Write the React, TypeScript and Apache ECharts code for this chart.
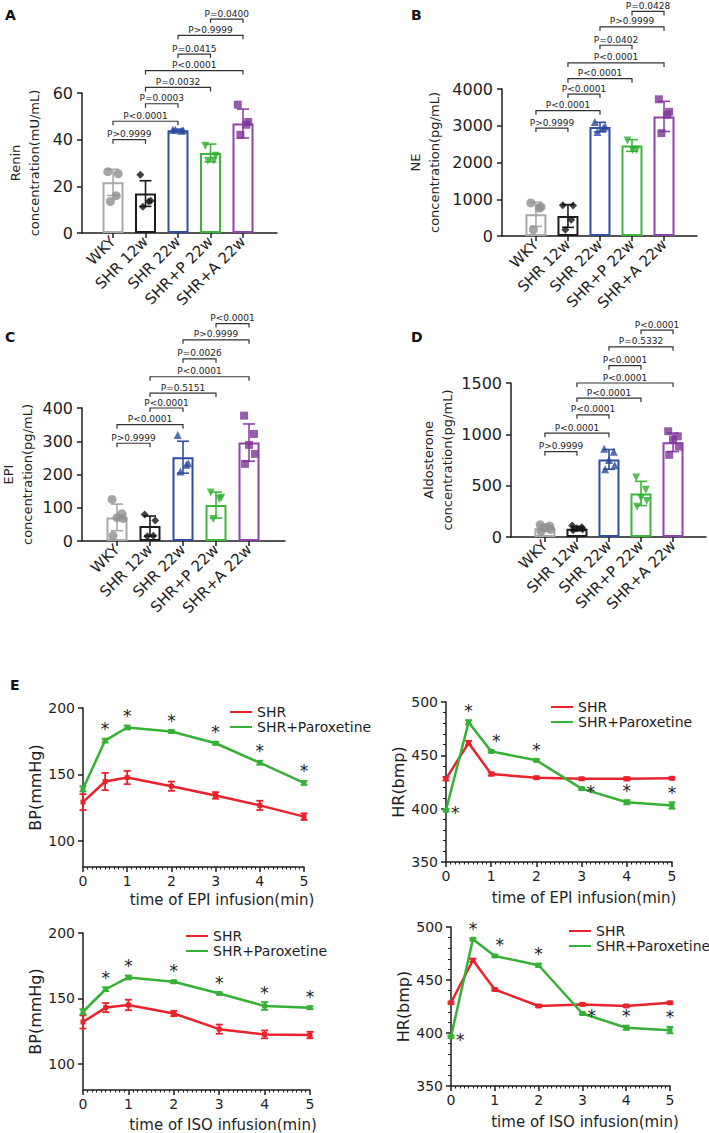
import React, { useEffect, useRef } from "react";
import * as echarts from "echarts";

const FONT = "'DejaVu Sans', 'Liberation Sans', Arial, sans-serif";
const AXIS = "#1e1e1e";
const TXT = "#1e1e1e";
const RED = "#e8232b";
const GREEN = "#36b036";

// ---------- Bar panels (A-D) ----------
const groups = ["WKY", "SHR 12w", "SHR 22w", "SHR+P 22w", "SHR+A 22w"];
const barColors = ["#a9a9a9", "#1c1c1c", "#2f4ea3", "#3db53d", "#8e44ad"];
const dotColors = ["#8e8e8e", "#111111", "#2a4a9e", "#2fae2f", "#7d3596"];
const dotSymbols = ["circle", "diamond", "triangle", "triangle", "rect"];
const dotRotations = [0, 0, 0, 180, 0];
const bracketPairs = [[0, 1], [0, 2], [1, 2], [1, 3], [1, 4], [2, 3], [2, 4], [3, 4]];
const jitter: Record<number, number[]> = {
  3: [-0.14, 0.14, 0.02],
  4: [-0.16, 0.16, 0.1, -0.08],
  5: [-0.15, 0.15, 0.0, 0.18, -0.12],
};

// A: Renin
const reninMean = [21.7, 16.9, 44.0, 34.3, 46.9];
const reninSD = [5.6, 5.5, 0.5, 3.8, 6.2];
const reninPoints = [[26.3, 25.4, 16.0, 13.5], [25.0, 13.8, 13.5, 11.3], [44.3, 44.0, 43.8, 44.2], [37.4, 33.1, 31.1, 31.0], [55.0, 47.6, 46.4, 42.1]];
const reninLevels = [40, 47.9, 55.4, 62.4, 69.6, 76.7, 84.7, 91.7];
const reninP = ["P>0.9999", "P<0.0001", "P=0.0003", "P=0.0032", "P<0.0001", "P=0.0415", "P>0.9999", "P=0.0400"];

// B: NE
const neMean = [591, 545, 2963, 2463, 3254];
const neSD = [330, 310, 130, 160, 410];
const nePoints = [[900, 790, 760, 170], [840, 830, 440, 170], [3100, 2980, 2940, 2830], [2600, 2345, 2330], [3720, 3380, 3300, 2800]];
const neLevels = [2936, 3409, 3863, 4282, 4709, 5190, 5690, 6110];
const neP = ["P>0.9999", "P<0.0001", "P<0.0001", "P<0.0001", "P<0.0001", "P=0.0402", "P>0.9999", "P=0.0428"];

// C: EPI
const epiMean = [71, 45, 252, 108, 296];
const epiSD = [40, 30, 48, 39, 56];
const epiPoints = [[125, 82, 70, 68, 16], [80, 62, 16, 14], [319, 234, 229, 209], [146, 130, 126, 66], [377, 322, 289, 262, 232]];
const epiLevels = [294, 350, 400, 445, 494, 548, 605, 654];
const epiP = ["P>0.9999", "P<0.0001", "P<0.0001", "P=0.5151", "P<0.0001", "P=0.0026", "P>0.9999", "P<0.0001"];

// D: Aldosterone
const aldoMean = [85, 81, 756, 424, 922];
const aldoSD = [30, 20, 96, 118, 90];
const aldoPoints = [[120, 108, 92, 72, 55], [112, 96, 86, 76, 66], [860, 830, 750, 700, 660], [580, 460, 380, 350, 295], [1030, 980, 950, 880, 800]];
const aldoLevels = [831, 1011, 1190, 1353, 1500, 1669, 1852, 2015];
const aldoP = ["P>0.9999", "P<0.0001", "P<0.0001", "P<0.0001", "P<0.0001", "P<0.0001", "P=0.5332", "P<0.0001"];

// ---------- Line panels (E) ----------
const timePoints = [0, 0.5, 1, 2, 3, 4, 5];
const bpEpiShr = [129, 144.5, 147.5, 141, 134, 126.5, 118];
const bpEpiShrErr = [6, 6.5, 5, 3.5, 2.5, 3.5, 2.5];
const bpEpiPar = [139, 175.4, 185.3, 182.3, 173.4, 158.7, 143.5];
const bpEpiParErr = [2, 1.5, 1.5, 1, 1, 1.5, 1.5];
const hrEpiShr = [428, 461.6, 432.5, 429, 428, 428, 428.5];
const hrEpiShrErr = [1.5, 2, 1.5, 1, 1, 1.5, 1];
const hrEpiPar = [398.5, 481, 453.7, 445.3, 418.8, 406, 403];
const hrEpiParErr = [1, 2, 1, 1, 1, 2, 3];
const bpIsoShr = [132, 143, 145, 138.5, 126.5, 122.5, 122];
const bpIsoShrErr = [5, 3.5, 4, 2, 3.5, 3, 2.5];
const bpIsoPar = [139.8, 157, 166, 162.7, 153.8, 144.2, 142.9];
const bpIsoParErr = [2, 1.5, 1.5, 1, 0.8, 3, 1];
const hrIsoShr = [428.5, 468.6, 441, 425.5, 427, 425.5, 428.5];
const hrIsoShrErr = [1, 1.5, 1, 1, 1, 1, 1];
const hrIsoPar = [396.5, 488.4, 472.7, 463.9, 418.4, 405, 402.7];
const hrIsoParErr = [1, 1, 1, 1.5, 1, 2, 3];
const starPosBP = ["", "top", "top", "top", "top", "top", "top"];
const starPosHR = ["right", "top", "topright", "top", "right", "top", "top"];

type BarCfg = {
  grid: any; xMin: number; xMax: number; yMax: number; yInterval: number;
  yName: string; nameGap: number; means: number[]; sd: number[]; points: number[][];
  levels: number[]; pLabels: string[];
};

type LineCfg = {
  grid: any; yMin: number; yMax: number; bp: boolean; yName: string;
  shr: number[]; shrErr: number[]; par: number[]; parErr: number[]; stars: string[];
};

function errRender(colorOf: (i: number) => string, hw: number, lw: number) {
  return (params: any, api: any) => {
    const x = api.value(0), m = api.value(1), s = api.value(2);
    const a = api.coord([x, m + s]);
    const b = api.coord([x, m - s]);
    const st = { stroke: colorOf(params.dataIndex), lineWidth: lw };
    return {
      type: "group",
      children: [
        { type: "line", shape: { x1: a[0], y1: a[1], x2: b[0], y2: b[1] }, style: st },
        { type: "line", shape: { x1: a[0] - hw, y1: a[1], x2: a[0] + hw, y2: a[1] }, style: st },
        { type: "line", shape: { x1: b[0] - hw, y1: b[1], x2: b[0] + hw, y2: b[1] }, style: st },
      ],
    };
  };
}

function buildOption() {
  const grid: any[] = [];
  const xAxis: any[] = [];
  const yAxis: any[] = [];
  const series: any[] = [];
  const axisLine = { show: true, onZero: false, lineStyle: { color: AXIS, width: 1.5 } };

  const barCfgs: BarCfg[] = [
    { grid: { left: 82, top: 93, width: 195, height: 140 }, xMin: -0.954, xMax: 5.046, yMax: 60, yInterval: 20, yName: "Renin\nconcentration(mU/mL)", nameGap: 38, means: reninMean, sd: reninSD, points: reninPoints, levels: reninLevels, pLabels: reninP },
    { grid: { left: 502, top: 89, width: 195, height: 147 }, xMin: -1.06, xMax: 5.03, yMax: 4000, yInterval: 1000, yName: "NE\nconcentration(pg/mL)", nameGap: 58, means: neMean, sd: neSD, points: nePoints, levels: neLevels, pLabels: neP },
    { grid: { left: 82, top: 408, width: 203, height: 133 }, xMin: -1.06, xMax: 5.09, yMax: 400, yInterval: 100, yName: "EPI\nconcentration(pg/mL)", nameGap: 45, means: epiMean, sd: epiSD, points: epiPoints, levels: epiLevels, pLabels: epiP },
    { grid: { left: 511, top: 383, width: 195, height: 154 }, xMin: -1.06, xMax: 5.03, yMax: 1500, yInterval: 500, yName: "Aldosterone\nconcentration(pg/mL)", nameGap: 54, means: aldoMean, sd: aldoSD, points: aldoPoints, levels: aldoLevels, pLabels: aldoP },
  ];

  barCfgs.forEach((cfg, k) => {
    grid.push({ ...cfg.grid, containLabel: false, outerBoundsMode: "none" });
    xAxis.push({
      type: "value", gridIndex: k, min: cfg.xMin, max: cfg.xMax,
      axisLine,
      axisTick: { show: true, customValues: [0, 1, 2, 3, 4], length: 5, lineStyle: { color: AXIS, width: 1.5 } },
      axisLabel: {
        customValues: [0, 1, 2, 3, 4],
        formatter: (v: number) => groups[Math.round(v)] ?? "",
        rotate: 45, fontSize: 15, fontFamily: FONT, color: TXT, margin: 6,
      },
      splitLine: { show: false },
    });
    yAxis.push({
      type: "value", gridIndex: k, min: 0, max: cfg.yMax, interval: cfg.yInterval,
      axisLine,
      axisTick: { show: true, length: 5, lineStyle: { color: AXIS, width: 1.5 } },
      splitLine: { show: false },
      axisLabel: { fontSize: 16, fontFamily: FONT, color: TXT, margin: 9, formatter: (v: number) => String(v) },
      name: cfg.yName, nameLocation: "middle", nameGap: cfg.nameGap, nameMoveOverlap: false,
      nameTextStyle: { fontSize: 13, fontFamily: FONT, color: TXT, lineHeight: 19, align: "center" },
    });
    series.push({
      type: "bar", xAxisIndex: k, yAxisIndex: k, barWidth: 21, silent: true, z: 2,
      data: cfg.means.map((m, i) => ({ value: [i, m], itemStyle: { color: "#ffffff", borderColor: barColors[i], borderWidth: 2 } })),
    });
    series.push({
      type: "custom", xAxisIndex: k, yAxisIndex: k, z: 3, silent: true,
      data: cfg.means.map((m, i) => [i, m, cfg.sd[i]]),
      renderItem: errRender((i) => barColors[i], 6, 1.6),
    });
    cfg.points.forEach((pts, i) => {
      series.push({
        type: "scatter", xAxisIndex: k, yAxisIndex: k, z: 4, silent: true,
        symbol: dotSymbols[i], symbolRotate: dotRotations[i], symbolSize: i === 0 ? 9 : 8,
        itemStyle: { color: dotColors[i] },
        data: pts.map((v, j) => [i + jitter[pts.length][j], v]),
      });
    });
    series.push({
      type: "custom", xAxisIndex: k, yAxisIndex: k, z: 5, silent: true, clip: false,
      data: bracketPairs.map(([a, b], j) => [a, b, cfg.levels[j], j]),
      renderItem: (params: any, api: any) => {
        const x1 = api.value(0), x2 = api.value(1), y = api.value(2);
        const p1 = api.coord([x1, y]);
        const p2 = api.coord([x2, y]);
        const t = 4;
        return {
          type: "group",
          children: [
            { type: "polyline", shape: { points: [[p1[0], p1[1] + t], [p1[0], p1[1]], [p2[0], p2[1]], [p2[0], p2[1] + t]] }, style: { stroke: "#333", lineWidth: 1.2, fill: null } },
            { type: "text", x: (p1[0] + p2[0]) / 2, y: p1[1] - 1, style: { text: cfg.pLabels[params.dataIndex], align: "center", verticalAlign: "bottom", textAlign: "center", textVerticalAlign: "bottom", fontSize: 9, fontFamily: FONT, fill: "#222" } },
          ],
        };
      },
    });
  });

  const lineCfgs: LineCfg[] = [
    { grid: { left: 83, top: 708, width: 221, height: 159 }, yMin: 80, yMax: 200, bp: true, yName: "BP(mmHg)", shr: bpEpiShr, shrErr: bpEpiShrErr, par: bpEpiPar, parErr: bpEpiParErr, stars: starPosBP },
    { grid: { left: 446, top: 702, width: 226, height: 160 }, yMin: 350, yMax: 500, bp: false, yName: "HR(bmp)", shr: hrEpiShr, shrErr: hrEpiShrErr, par: hrEpiPar, parErr: hrEpiParErr, stars: starPosHR },
    { grid: { left: 83, top: 933, width: 227, height: 157 }, yMin: 80, yMax: 200, bp: true, yName: "BP(mmHg)", shr: bpIsoShr, shrErr: bpIsoShrErr, par: bpIsoPar, parErr: bpIsoParErr, stars: starPosBP },
    { grid: { left: 451, top: 927, width: 219, height: 159 }, yMin: 350, yMax: 500, bp: false, yName: "HR(bmp)", shr: hrIsoShr, shrErr: hrIsoShrErr, par: hrIsoPar, parErr: hrIsoParErr, stars: starPosHR },
  ];

  lineCfgs.forEach((cfg, n) => {
    const k = 4 + n;
    grid.push({ ...cfg.grid, containLabel: false, outerBoundsMode: "none" });
    xAxis.push({
      type: "value", gridIndex: k, min: 0, max: 5, interval: 1,
      axisLine,
      axisTick: { show: true, length: 5, lineStyle: { color: AXIS, width: 1.5 } },
      minorTick: { show: true, splitNumber: 10, length: 2.5, lineStyle: { color: AXIS, width: 1 } },
      splitLine: { show: false }, minorSplitLine: { show: false },
      axisLabel: { fontSize: 14, fontFamily: FONT, color: TXT, margin: 7 },
    });
    const yBase: any = {
      type: "value", gridIndex: k, min: cfg.yMin, max: cfg.yMax,
      axisLine,
      splitLine: { show: false }, minorSplitLine: { show: false },
      name: cfg.yName, nameLocation: "middle", nameGap: 40, nameMoveOverlap: false,
      nameTextStyle: { fontSize: 16, fontFamily: FONT, color: TXT },
    };
    if (cfg.bp) {
      yBase.axisTick = { show: true, length: 5, customValues: [100, 150, 200], lineStyle: { color: AXIS, width: 1.5 } };
      yBase.axisLabel = { customValues: [100, 150, 200], fontSize: 14, fontFamily: FONT, color: TXT, margin: 8 };
    } else {
      yBase.interval = 50;
      yBase.axisTick = { show: true, length: 5, lineStyle: { color: AXIS, width: 1.5 } };
      yBase.minorTick = { show: true, splitNumber: 5, length: 3, lineStyle: { color: AXIS, width: 1 } };
      yBase.axisLabel = { fontSize: 14, fontFamily: FONT, color: TXT, margin: 8 };
    }
    yAxis.push(yBase);

    series.push({
      type: "line", name: "SHR", xAxisIndex: k, yAxisIndex: k, z: 3, silent: true,
      symbol: "rect", symbolSize: 5, color: RED,
      lineStyle: { width: 2.5, color: RED }, itemStyle: { color: RED },
      data: timePoints.map((t, i) => [t, cfg.shr[i]]),
    });
    series.push({
      type: "line", name: "SHR+Paroxetine", xAxisIndex: k, yAxisIndex: k, z: 4, silent: true,
      symbol: "rect", symbolSize: 5, color: GREEN,
      lineStyle: { width: 2.5, color: GREEN }, itemStyle: { color: GREEN },
      data: timePoints.map((t, i) => [t, cfg.par[i]]),
    });
    series.push({
      type: "custom", name: "err-shr", xAxisIndex: k, yAxisIndex: k, z: 5, silent: true,
      data: timePoints.map((t, i) => [t, cfg.shr[i], cfg.shrErr[i]]),
      renderItem: errRender(() => RED, 3.5, 1.8),
    });
    series.push({
      type: "custom", name: "err-par", xAxisIndex: k, yAxisIndex: k, z: 5, silent: true,
      data: timePoints.map((t, i) => [t, cfg.par[i], cfg.parErr[i]]),
      renderItem: errRender(() => GREEN, 3.5, 1.8),
    });
    const starData = timePoints
      .map((t, i) => [t, cfg.par[i], cfg.parErr[i], i])
      .filter((d) => cfg.stars[d[3]] !== "");
    series.push({
      type: "custom", name: "stars", xAxisIndex: k, yAxisIndex: k, z: 6, silent: true, clip: false,
      data: starData,
      renderItem: (params: any, api: any) => {
        const x = api.value(0), y = api.value(1), e = api.value(2), idx = api.value(3);
        const pos = cfg.stars[idx];
        const top = api.coord([x, y + e]);
        const mid = api.coord([x, y]);
        let px = top[0], py = top[1] - 1, va = "bottom", al = "center";
        if (pos === "right") { px = mid[0] + 5; py = mid[1] + 3; va = "middle"; al = "left"; }
        if (pos === "topright") { px = top[0] + 5; py = top[1] - 1; }
        return {
          type: "text", x: px, y: py,
          style: { text: "*", align: al, verticalAlign: va, textAlign: al, textVerticalAlign: va, fontSize: 17, fontFamily: FONT, fill: "#222" },
        };
      },
    });
  });

  const legendBase = {
    orient: "vertical", itemGap: 1, icon: "rect", itemWidth: 22, itemHeight: 2, padding: 0,
    selectedMode: false, textStyle: { fontSize: 14, fontFamily: FONT, color: TXT },
    data: ["SHR", "SHR+Paroxetine"],
  };
  const legend = [
    { ...legendBase, left: 230, top: 705 },
    { ...legendBase, left: 551, top: 700 },
    { ...legendBase, left: 186, top: 929 },
    { ...legendBase, left: 569, top: 924 },
  ];

  const label = (text: string, x: number, y: number) => ({
    type: "text", left: x, top: y,
    style: { text, fontSize: 14, fontWeight: "bold", fontFamily: FONT, fill: "#111" },
  });
  const title = (text: string, x: number, y: number) => ({
    type: "text", x, y,
    style: { text, fontSize: 15, fontFamily: FONT, fill: TXT, align: "center", verticalAlign: "middle", textAlign: "center", textVerticalAlign: "middle" },
  });
  const graphic = [
    label("A", 5, 8),
    label("B", 411, 8),
    label("C", 5, 330),
    label("D", 411, 330),
    label("E", 10, 678),
    title("time of EPI infusion(min)", 222, 900),
    title("time of EPI infusion(min)", 584, 898),
    title("time of ISO infusion(min)", 223, 1125),
    title("time of ISO infusion(min)", 585, 1122),
  ];

  return {
    animation: false,
    backgroundColor: "#ffffff",
    textStyle: { fontFamily: FONT },
    grid, xAxis, yAxis, series, legend, graphic,
  };
}

export default function App() {
  const ref = useRef<HTMLDivElement>(null);
  useEffect(() => {
    if (!ref.current) return;
    const chart = echarts.init(ref.current, null, { renderer: "svg" });
    chart.setOption(buildOption() as any);
    return () => chart.dispose();
  }, []);
  return (
    <div
      ref={ref}
      style={{ position: "absolute", left: 0, top: 0, width: 709, height: 1133, background: "#fff" }}
    />
  );
}
